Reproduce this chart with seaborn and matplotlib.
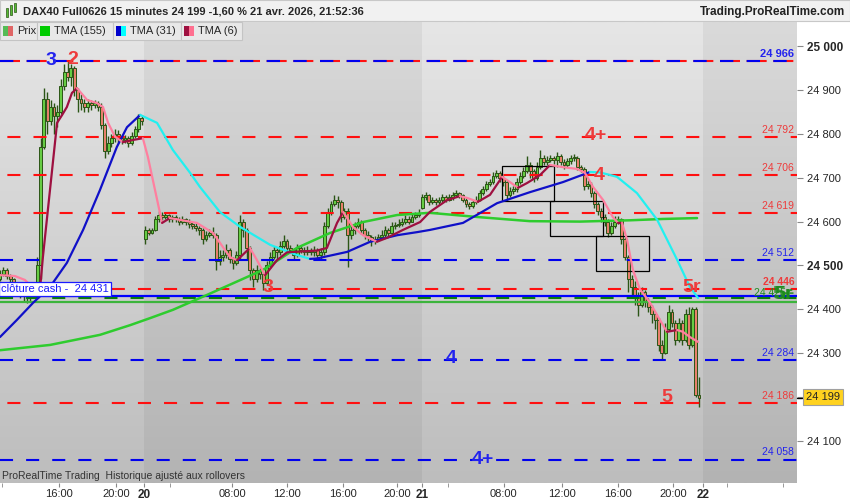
import numpy as np
import pandas as pd
import matplotlib.pyplot as plt
import seaborn as sns
from matplotlib.patches import Rectangle
from matplotlib.colors import LinearSegmentedColormap
from matplotlib.transforms import blended_transform_factory

sns.set_style("white")
plt.rcParams["font.family"] = ["Liberation Sans", "DejaVu Sans"]
plt.rcParams["lines.scale_dashes"] = False

BASE = 24000  # candle prices typed as offsets from 24 000

# 15 min candles, 19 avr. ~11:15 -> 21 avr. 21:45 (one entry per bar)
opens = [470, 480, 490, 475, 470, 455, 445, 440, 430, 435,
         440, 450, 500, 770, 880, 830, 860, 840, 850, 910,
         940, 930, 950, 900, 880, 870, 860, 870, 865, 870,
         860, 820, 760, 780, 790, 800, 790, 785, 790, 780,
         795, 810, 835, 560, 580, 575, 580, 605, 615, 610,
         615, 605, 610, 605, 600, 605, 600, 595, 590, 585,
         580, 560, 570, 575, 570, 510, 520, 525, 535, 515,
         505, 525, 600, 580, 540, 490, 470, 490, 480, 460,
         500, 520, 535, 530, 545, 555, 540, 535, 525, 540,
         535, 530, 535, 530, 535, 525, 530, 590, 620, 640,
         650, 645, 610, 625, 570, 580, 590, 600, 580, 570,
         565, 555, 560, 565, 570, 580, 575, 590, 592, 595,
         600, 605, 600, 610, 615, 630, 655, 660, 645, 650,
         645, 650, 655, 650, 655, 660, 665, 660, 650, 640,
         635, 645, 650, 665, 675, 685, 690, 705, 710, 700,
         690, 660, 670, 675, 690, 705, 715, 730, 715, 700,
         725, 745, 735, 740, 745, 740, 750, 735, 730, 738,
         745, 746, 725, 720, 680, 685, 665, 640, 625, 610,
         600, 575, 590, 600, 605, 560, 520, 470, 450, 430,
         410, 440, 420, 405, 390, 375, 320, 300, 355, 395,
         370, 330, 370, 330, 390, 320, 400, 205]
highs = [490, 497, 495, 480, 472, 460, 452, 445, 442, 448,
         460, 520, 790, 905, 895, 877, 870, 865, 925, 958,
         966, 960, 955, 905, 890, 880, 880, 878, 878, 875,
         870, 825, 795, 800, 812, 808, 798, 797, 795, 805,
         818, 845, 842, 590, 585, 586, 612, 625, 622, 620,
         618, 616, 614, 610, 612, 608, 606, 600, 596, 590,
         585, 578, 582, 588, 575, 535, 535, 548, 540, 520,
         532, 615, 605, 585, 545, 495, 500, 495, 485, 510,
         530, 545, 540, 555, 570, 560, 546, 540, 550, 545,
         542, 545, 540, 545, 540, 540, 600, 630, 648, 660,
         658, 650, 632, 630, 595, 598, 608, 604, 585, 578,
         570, 568, 572, 580, 590, 585, 598, 600, 605, 608,
         615, 612, 620, 623, 628, 662, 668, 662, 656, 654,
         657, 662, 660, 662, 667, 672, 668, 663, 654, 645,
         650, 658, 672, 682, 692, 698, 712, 718, 715, 705,
         695, 678, 682, 700, 712, 725, 750, 735, 720, 735,
         763, 752, 750, 752, 750, 758, 755, 742, 745, 752,
         753, 750, 730, 725, 695, 690, 670, 645, 630, 618,
         605, 598, 612, 612, 608, 565, 525, 478, 465, 440,
         450, 445, 425, 410, 395, 380, 330, 370, 410, 400,
         375, 380, 375, 400, 405, 405, 405, 245]
lows = [465, 475, 470, 460, 445, 435, 425, 418, 415, 420,
        432, 445, 470, 765, 800, 820, 800, 815, 845, 900,
        920, 910, 885, 850, 855, 850, 850, 855, 858, 852,
        812, 745, 755, 770, 782, 780, 776, 778, 770, 775,
        790, 805, 820, 548, 570, 572, 578, 600, 603, 605,
        598, 600, 598, 592, 595, 592, 585, 582, 578, 570,
        548, 555, 565, 562, 490, 500, 510, 518, 505, 492,
        500, 512, 565, 512, 467, 450, 462, 470, 445, 455,
        495, 515, 515, 525, 540, 532, 528, 512, 520, 528,
        524, 525, 525, 522, 515, 515, 525, 585, 615, 635,
        630, 600, 605, 497, 560, 572, 585, 572, 560, 555,
        545, 550, 555, 560, 565, 568, 572, 582, 588, 590,
        595, 594, 598, 605, 610, 628, 650, 638, 640, 638,
        640, 645, 644, 646, 650, 655, 654, 645, 633, 628,
        630, 640, 646, 660, 670, 680, 686, 700, 690, 680,
        648, 655, 662, 668, 685, 700, 710, 700, 690, 695,
        720, 728, 730, 735, 732, 725, 728, 720, 725, 732,
        738, 718, 712, 672, 675, 655, 630, 615, 600, 590,
        565, 570, 585, 595, 550, 512, 440, 425, 410, 385,
        405, 405, 395, 370, 355, 305, 285, 298, 350, 360,
        318, 325, 320, 325, 310, 315, 200, 178]
closes = [480, 490, 475, 470, 455, 445, 440, 430, 435, 440,
          450, 500, 770, 880, 830, 860, 840, 850, 910, 940,
          930, 950, 900, 880, 870, 860, 870, 865, 870, 860,
          820, 760, 780, 790, 800, 790, 785, 790, 780, 795,
          810, 835, 830, 580, 575, 580, 605, 615, 610, 615,
          605, 610, 605, 600, 605, 600, 595, 590, 585, 580,
          560, 570, 575, 570, 510, 520, 525, 535, 515, 505,
          525, 600, 580, 540, 490, 470, 490, 480, 460, 500,
          520, 535, 530, 545, 555, 540, 535, 525, 540, 535,
          530, 535, 530, 535, 525, 530, 590, 620, 640, 650,
          645, 610, 625, 570, 580, 590, 600, 580, 570, 565,
          555, 560, 565, 570, 580, 575, 590, 592, 595, 600,
          605, 600, 610, 615, 620, 655, 660, 645, 650, 645,
          650, 655, 650, 655, 660, 665, 660, 650, 640, 635,
          645, 650, 665, 675, 685, 690, 705, 710, 700, 690,
          660, 670, 675, 690, 705, 715, 730, 715, 700, 725,
          745, 735, 740, 745, 740, 750, 735, 730, 738, 745,
          746, 725, 720, 680, 685, 665, 640, 625, 610, 600,
          575, 590, 600, 605, 560, 520, 470, 450, 430, 410,
          440, 420, 405, 390, 375, 320, 300, 355, 395, 370,
          330, 370, 330, 390, 320, 400, 205, 199]

# moving averages (bar index, value)
tma155_x = [0, 14.8, 29.6, 38.5, 44.4, 51.2, 61.3, 77.9, 87.9, 97.7, 107.5,
            117.6, 127.3, 142.1, 156.9, 171.7, 186.6, 196.3, 206.4]
tma155_y = [24307, 24319, 24342, 24364, 24380, 24399, 24433, 24490, 24540, 24574, 24599,
            24615, 24620, 24610, 24601, 24600, 24603, 24606, 24608]

tma31_x = [0, 5.0, 9.8, 14.8, 19.8, 24.6, 29.6, 34.6, 37.6, 41.5, 46.5, 51.2, 56.3,
           59.2, 65.1, 71.1, 80.0, 87.9, 91.8, 93.9, 102.8, 109.6, 117.6, 123.5, 127.3,
           137.1, 147.2, 156.9, 166.7, 174.7, 177.7, 182.7, 188.6, 194.6, 200.5, 204.3, 206.7]
tma31_y = [24337, 24376, 24415, 24451, 24506, 24581, 24672, 24770, 24815, 24843, 24825, 24763, 24711,
           24679, 24622, 24588, 24547, 24524, 24515, 24516, 24531, 24554, 24569, 24576, 24581,
           24597, 24642, 24667, 24690, 24713, 24712, 24702, 24665, 24604, 24513, 24451, 24426]

tma6_x = [0, 4.4, 7.4, 10.4, 11.8, 12.7, 14.8, 16.9, 18.4, 19.8, 21.3, 22.8, 25.8, 28.7,
          30.5, 32.0, 34.1, 36.4, 39.4, 42.3, 43.8, 45.9, 48.0, 50.3, 53.3, 58.3, 63.1,
          68.1, 70.2, 74.0, 76.1, 78.5, 82.0, 85.0, 93.9, 96.8, 99.8, 101.6, 104.5, 107.5,
          111.6, 114.6, 119.3, 124.4, 127.3, 132.4, 136.2, 138.3, 141.5, 145.1, 148.7,
          151.0, 153.4, 156.1, 159.9, 162.9, 166.7, 170.9, 173.2, 175.6, 178.6, 181.5,
          183.0, 184.2, 185.7, 187.4, 189.5, 192.5, 195.4, 197.5, 200.5, 202.2, 204.3, 206.7]
tma6_y = [24478, 24476, 24467, 24444, 24442, 24519, 24672, 24825, 24843, 24861, 24893, 24904, 24877, 24870,
          24861, 24825, 24793, 24781, 24786, 24790, 24747, 24672, 24597, 24608, 24604, 24597, 24574,
          24519, 24512, 24540, 24512, 24478, 24512, 24530, 24534, 24540, 24597, 24622, 24588, 24569,
          24554, 24563, 24581, 24599, 24622, 24649, 24658, 24654, 24645, 24661, 24702,
          24690, 24677, 24688, 24706, 24729, 24724, 24720, 24711, 24679, 24649, 24610,
          24597, 24597, 24558, 24490, 24446, 24415, 24376, 24349, 24353, 24349, 24337, 24326]

# horizontal levels
level_vals = [24792, 24706, 24619, 24512, 24446, 24284, 24186, 24058]
level_cols = ["red", "red", "red", "blue", "red", "blue", "red", "blue"]
top_level = 24966
cash_close = 24431
green_dash = 24425
green_solid = 24416
last_price = 24199

# black boxes
box_x0 = [148.7, 162.9, 176.5]
box_x1 = [164.0, 178.6, 192.2]
box_top = [24727, 24647, 24567]
box_bot = [24647, 24567, 24487]

# big wave labels
mark_txt = ["3", "2", "3", "4+", "4", "5r", "5", "4", "4+", "5r"]
mark_x = [15.1, 21.6, 79.4, 176.5, 177.4, 204.9, 197.5, 133.6, 143.0, 231.9]
mark_y = [24966, 24970, 24449, 24795, 24706, 24449, 24200, 24289, 24059, 24433]
mark_col = ["blue", "red", "red", "red", "red", "red", "red", "blue", "blue", "green"]

xtick_pos = [17.5, 34.3, 42.6, 68.7, 85.0, 101.6, 117.6, 125.0, 149.2, 166.4, 183.0, 199.3, 208.2]
xtick_lab = ["16:00", "20:00", "20", "08:00", "12:00", "16:00", "20:00", "21",
             "08:00", "12:00", "16:00", "20:00", "22"]
xminor_pos = [0.6, 50.3, 132.7, 215.3, 231.9]

RED, BLUE, GREEN = "#ff1010", "#0000ee", "#0a7d0a"
TXT = {"red": "#ee3b3b", "blue": "#2323ee", "green": "#1e8c1e"}

fig = plt.figure(figsize=(8.5, 5), dpi=100)
ax = fig.add_axes([0, 17 / 500, 797 / 850, 461 / 500])
XMAX = 236.0
YMIN, YMAX = 24004.5, 25054.7

# background gradient + darker day bands
cmap = LinearSegmentedColormap.from_list("bg", ["#bdbdbd", "#e6e6e6"])
ax.imshow(np.linspace(1, 0, 256).reshape(-1, 1), extent=[0, XMAX, YMIN, YMAX],
          aspect="auto", cmap=cmap, zorder=0)
ax.axvspan(42.6, 125.0, color="black", alpha=0.05, lw=0, zorder=0.5)
ax.axvspan(208.2, XMAX, color="black", alpha=0.05, lw=0, zorder=0.5)

# candles
o = np.array(opens) + BASE
h = np.array(highs) + BASE
l = np.array(lows) + BASE
c = np.array(closes) + BASE
idx = np.arange(len(c))
up = c >= o
ax.vlines(idx, l, h, color="#2b5516", lw=1.0, zorder=2)
ax.bar(idx, np.maximum(np.abs(c - o), 1.5), bottom=np.minimum(o, c), width=0.85,
       color=np.where(up, "#66cc44", "#e8806c"), edgecolor="#2b5516", linewidth=0.7, zorder=2.5)

# levels
ax.axhline(top_level, color=RED, lw=1.5, ls=(0, (14.4, 4.8)), zorder=3)
ax.axhline(top_level, color=BLUE, lw=1.5, ls=(0, (9.6, 9.6)), zorder=3.1)
for val, col in zip(level_vals, level_cols):
    if col == "red":
        ax.axhline(val, color=RED, lw=1.5, ls=(13.5, (9.4, 9.4)), zorder=3)
    else:
        ax.axhline(val, color=BLUE, lw=1.5, ls=(0, (9.4, 9.4)), zorder=3)
ax.axhline(cash_close, color="#0000ff", lw=1.6, zorder=3)
ax.axhline(green_dash, color=GREEN, lw=1.5, ls=(0, (9.4, 9.4)), zorder=3)
ax.axhline(green_solid, color="#3cb43c", lw=1.6, zorder=3)

for x0, x1, yt, yb in zip(box_x0, box_x1, box_top, box_bot):
    ax.add_patch(Rectangle((x0, yb), x1 - x0, yt - yb, fill=False, ec="black", lw=0.9, zorder=3.5))


def draw_tma(xs, ys, up_col, down_col, lw):
    xs = np.asarray(xs, float)
    ys = np.asarray(ys, float)
    rising = np.diff(ys) >= 0
    start = 0
    for k in range(1, len(rising) + 1):
        if k == len(rising) or rising[k] != rising[start]:
            seg = pd.DataFrame({"x": xs[start:k + 1], "y": ys[start:k + 1]})
            sns.lineplot(data=seg, x="x", y="y", color=up_col if rising[start] else down_col,
                         lw=lw, ax=ax, sort=False, estimator=None, legend=False, zorder=4)
            start = k


sns.lineplot(x=tma155_x, y=tma155_y, color="#2ecc2e", lw=1.8, ax=ax, sort=False,
             estimator=None, legend=False, zorder=4)
draw_tma(tma31_x, tma31_y, "#1010c8", "#22f0f0", 1.6)
draw_tma(tma6_x, tma6_y, "#9e1040", "#ff7f9f", 1.6)

# level labels on the right
tr = blended_transform_factory(ax.transAxes, ax.transData)
ax.annotate("24 966", (1, top_level), xycoords=tr, xytext=(-2, 1.5), textcoords="offset points",
            ha="right", va="bottom", fontsize=8, color=TXT["blue"], weight="bold", zorder=6)
for val, col in zip(level_vals, level_cols):
    ax.annotate(f"{val // 1000} {val % 1000:03d}", (1, val), xycoords=tr, xytext=(-2, 1.5),
                textcoords="offset points", ha="right", va="bottom", fontsize=7.5,
                color=TXT[col], weight="bold" if val == 24446 else "normal", zorder=6)
ax.annotate("24 425", (1, green_dash), xycoords=tr, xytext=(-8, 0.5), textcoords="offset points",
            ha="right", va="bottom", fontsize=7.5, color=TXT["green"], zorder=6)

for t, x, y, col in zip(mark_txt, mark_x, mark_y, mark_col):
    ax.text(x, y, t, color=TXT[col], fontsize=14, weight="bold", ha="center", va="center", zorder=6)
ax.text(231.9, 24433, "5+", color=TXT["green"], fontsize=14, weight="bold", ha="center",
        va="center", zorder=6, alpha=0.8)

ax.text(0.4, cash_close + 4, "clôture cash -  24 431", color="#1a1aff", fontsize=8, va="bottom",
        ha="left", zorder=7,
        bbox=dict(boxstyle="square,pad=0.2", fc="white", ec="#1a1aff", lw=0.9))
ax.text(0.6, 24021, "ProRealTime Trading  Historique ajusté aux rollovers", fontsize=7.5,
        color="#333333", va="center", ha="left", zorder=6)

# axes
ax.set_xlim(0, XMAX)
ax.set_ylim(YMIN, YMAX)
ax.set_xlabel("")
ax.set_ylabel("")
for s in ax.spines.values():
    s.set_visible(False)
ax.yaxis.tick_right()
yt = np.arange(24100, 25001, 100)
ax.set_yticks(yt)
ax.set_yticklabels([f"{v // 1000} {v % 1000:03d}" for v in yt])
ax.tick_params(axis="y", length=4, color="#888888", labelsize=8, pad=3, right=True)
for lab, v in zip(ax.get_yticklabels(), yt):
    if v in (25000, 24500):
        lab.set_fontweight("bold")
        lab.set_fontsize(8.5)
ax.set_xticks(xtick_pos)
ax.set_xticklabels(xtick_lab)
ax.set_xticks(xminor_pos, minor=True)
ax.tick_params(axis="x", which="both", length=3, color="#888888", labelsize=8, pad=1, bottom=True)
for lab in ax.get_xticklabels():
    if ":" not in lab.get_text():
        lab.set_fontweight("bold")
        lab.set_fontsize(8.5)
ax.plot([1, 1.006], [last_price, last_price], transform=tr, color="black", lw=1, clip_on=False)
fig.text(806 / 850, 1 - 397 / 500, "24 199", fontsize=8, va="center", ha="left",
         bbox=dict(boxstyle="square,pad=0.25", fc="#ffd21f", ec="#a0a0a0", lw=0.8))


def px(x, y):
    return x / 850, 1 - y / 500


# title bar
fig.add_artist(Rectangle(px(0, 21), 1, 21 / 500, transform=fig.transFigure, fc="#f1f1f1",
                         ec="#c8c8c8", lw=0.8))
for cx, y0, y1 in [(7, 8, 17), (11, 5, 15), (15, 3, 12)]:
    fig.add_artist(Rectangle(px(cx - 1.3, y1), 2.6 / 850, (y1 - y0) / 500, transform=fig.transFigure,
                             fc="#55bb33", ec="#2b5516", lw=0.5))
fig.text(*px(23, 11.5), "DAX40 Full0626 15 minutes 24 199 -1,60 % 21 avr. 2026, 21:52:36",
         fontsize=8, weight="bold", va="center", ha="left")
fig.text(*px(845, 11.5), "Trading.ProRealTime.com", fontsize=8.5, weight="bold", va="center",
         ha="right", color="#222222")

# legend strip
legend_boxes = [(0, 37, "Prix", ("#55bb55", "#e06666")),
                (37, 113, "TMA (155)", ("#00cc00", "#00cc00")),
                (113, 181, "TMA (31)", ("#0000cc", "#00ffff")),
                (181, 242, "TMA (6)", ("#9e1040", "#ff7090"))]
for x0, x1, name, (c1, c2) in legend_boxes:
    fig.add_artist(Rectangle(px(x0, 40), (x1 - x0) / 850, 18 / 500, transform=fig.transFigure,
                             fc="#e8e8e8", ec="#c4c4c4", lw=0.8, zorder=5))
    fig.add_artist(Rectangle(px(x0 + 3, 36), 5 / 850, 10 / 500, transform=fig.transFigure,
                             fc=c1, ec="none", zorder=6))
    fig.add_artist(Rectangle(px(x0 + 8, 36), 5 / 850, 10 / 500, transform=fig.transFigure,
                             fc=c2, ec="none", zorder=6))
    fig.text(*px(x0 + 17, 31), name, fontsize=8, va="center", ha="left", zorder=7)

fig.savefig("out.png", dpi=100)
